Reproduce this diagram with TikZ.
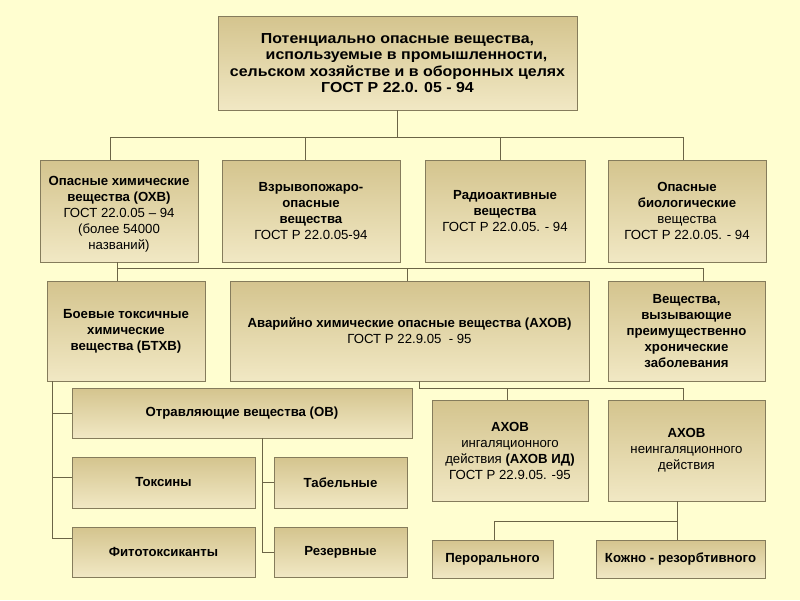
\documentclass[tikz,border=0pt]{standalone}
\usepackage{fontspec}
\setmainfont{Liberation Sans}
\usetikzlibrary{shadows}

\definecolor{bgyellow}{HTML}{FFFED0}
\definecolor{boxdark}{HTML}{D4C48E}
\definecolor{boxlight}{HTML}{F1E8C4}
\definecolor{boxedge}{HTML}{857C5C}
\definecolor{linkcol}{HTML}{6B6446}

\begin{document}
\begin{tikzpicture}[x=1pt, y=-1pt,
    box/.style={draw=boxedge, line width=0.9pt, top color=boxdark, bottom color=boxlight,
        align=center, inner sep=2pt, font=\fontsize{13.2}{16}\selectfont,
        drop shadow={shadow xshift=1.2pt, shadow yshift=-1.2pt, fill=black, opacity=0.25}},
    boldbox/.style={box, font=\bfseries\fontsize{13.2}{16}\selectfont},
    link/.style={draw=linkcol, line width=0.8pt}]

    % Background
    \fill[bgyellow] (0,0) rectangle (800,600);
    \useasboundingbox (0,0) rectangle (800,600);

    % Top box
    \node[boldbox, font=\bfseries\fontsize{14.5}{16.5}\selectfont\addfontfeature{FakeStretch=1.1},
          minimum width=359pt, minimum height=94pt] (top) at (397.5,63)
        {Потенциально опасные вещества,\\ \hspace*{18pt}используемые в промышленности,\\ сельском хозяйстве и в оборонных целях\\ ГОСТ Р 22.0. 05 - 94};

    % Second row
    \node[box, minimum width=158pt, minimum height=102pt] (ohv) at (119,211)
        {\rule{0pt}{16pt}\textbf{Опасные химические}\\ \textbf{вещества (ОХВ)}\\ ГОСТ 22.0.05 – 94\\ (более 54000\\ названий)};
    \node[box, minimum width=178pt, minimum height=102pt] (vzryv) at (311,211)
        {\textbf{Взрывопожаро-}\\ \textbf{опасные}\\ \textbf{вещества}\\ ГОСТ Р 22.0.05-94};
    \node[box, minimum width=160pt, minimum height=102pt] (radio) at (505,211)
        {\textbf{Радиоактивные}\\ \textbf{вещества}\\ ГОСТ Р 22.0.05. - 94};
    \node[box, minimum width=158pt, minimum height=102pt] (bio) at (687,211)
        {\textbf{Опасные}\\ \textbf{биологические}\\ вещества\\ ГОСТ Р 22.0.05. - 94};

    % Third row
    \node[boldbox, minimum width=158pt, minimum height=100pt] (btxv) at (126,331)
        {Боевые токсичные\\ химические\\ вещества (БТХВ)};
    \node[box, minimum width=359pt, minimum height=100pt] (ahov) at (409.5,331)
        {\textbf{Аварийно химические опасные вещества (АХОВ)}\\ ГОСТ Р 22.9.05 \ - 95};
    \node[boldbox, minimum width=157pt, minimum height=100pt] (chron) at (686.5,331)
        {Вещества,\\ вызывающие\\ преимущественно\\ хронические\\ заболевания};

    % Left branch (BTXV)
    \node[boldbox, minimum width=340pt, minimum height=50pt] (ov) at (242,413) {Отравляющие вещества (ОВ)};
    \node[boldbox, minimum width=183pt, minimum height=51pt] (toks) at (163.5,482.5) {Токсины};
    \node[boldbox, minimum width=183pt, minimum height=50pt] (fito) at (163.5,552) {Фитотоксиканты};
    \node[boldbox, minimum width=133pt, minimum height=51pt] (tab) at (340.5,482.5) {Табельные};
    \node[boldbox, minimum width=133pt, minimum height=50pt] (rez) at (340.5,552) {Резервные};

    % Right branch (AXOV)
    \node[box, minimum width=156pt, minimum height=101pt] (ahovid) at (510,450.5)
        {\textbf{АХОВ}\\ ингаляционного\\ действия \textbf{(АХОВ ИД)}\\ ГОСТ Р 22.9.05. -95};
    \node[box, minimum width=157pt, minimum height=101pt] (ahovne) at (686.5,450.5)
        {\textbf{АХОВ}\\ неингаляционного\\ действия};
    \node[boldbox, minimum width=121pt, minimum height=38pt] (peror) at (492.5,559) {Перорального};
    \node[boldbox, minimum width=169pt, minimum height=38pt] (kozh) at (680.5,559) {Кожно - резорбтивного};

    % Bus lines
    \coordinate (bus1) at (0,137);
    \coordinate (bus2) at (0,268);
    \coordinate (bus3) at (0,388);
    \coordinate (bus4) at (0,521);

    % Top -> second row
    \draw[link] (top.south) -- (top.south |- bus1);
    \draw[link] ([xshift=-9pt]ohv.north) |- ([xshift=-4pt]bio.north |- bus1) -- ([xshift=-4pt]bio.north);
    \draw[link] ([xshift=-6pt]vzryv.north) -- ([xshift=-6pt]vzryv.north |- bus1);
    \draw[link] ([xshift=-5pt]radio.north) -- ([xshift=-5pt]radio.north |- bus1);

    % OXV -> third row
    \draw[link] ([xshift=-2pt]ohv.south) |- ([xshift=16.5pt]chron.north |- bus2) -- ([xshift=16.5pt]chron.north);
    \draw[link] ([xshift=-9pt]btxv.north) -- ([xshift=-9pt]btxv.north |- bus2);
    \draw[link] ([xshift=-2.5pt]ahov.north) -- ([xshift=-2.5pt]ahov.north |- bus2);

    % BTXV spine
    \coordinate (sp) at ([xshift=6pt]btxv.south west);
    \draw[link] (sp) |- ([yshift=14pt]fito.west);
    \draw[link] (sp |- ov.west) -- (ov.west);
    \draw[link] ([yshift=5.5pt]toks.west -| sp) -- ([yshift=5.5pt]toks.west);

    % OV spine
    \draw[link] ([xshift=20pt]ov.south) |- (rez.west);
    \draw[link] ([xshift=20pt]ov.south |- tab.west) -- (tab.west);

    % AXOV -> subtypes
    \draw[link] ([xshift=9.5pt]ahov.south) |- ([xshift=-3.5pt]ahovne.north |- bus3) -- ([xshift=-3.5pt]ahovne.north);
    \draw[link] ([xshift=-3pt]ahovid.north) -- ([xshift=-3pt]ahovid.north |- bus3);

    % non-inhalation -> routes
    \draw[link] ([xshift=-9.5pt]ahovne.south) -- ([xshift=-9.5pt]ahovne.south |- kozh.north);
    \draw[link] ([xshift=-9.5pt]ahovne.south |- bus4) -| ([xshift=1.5pt]peror.north);
\end{tikzpicture}
\end{document}
